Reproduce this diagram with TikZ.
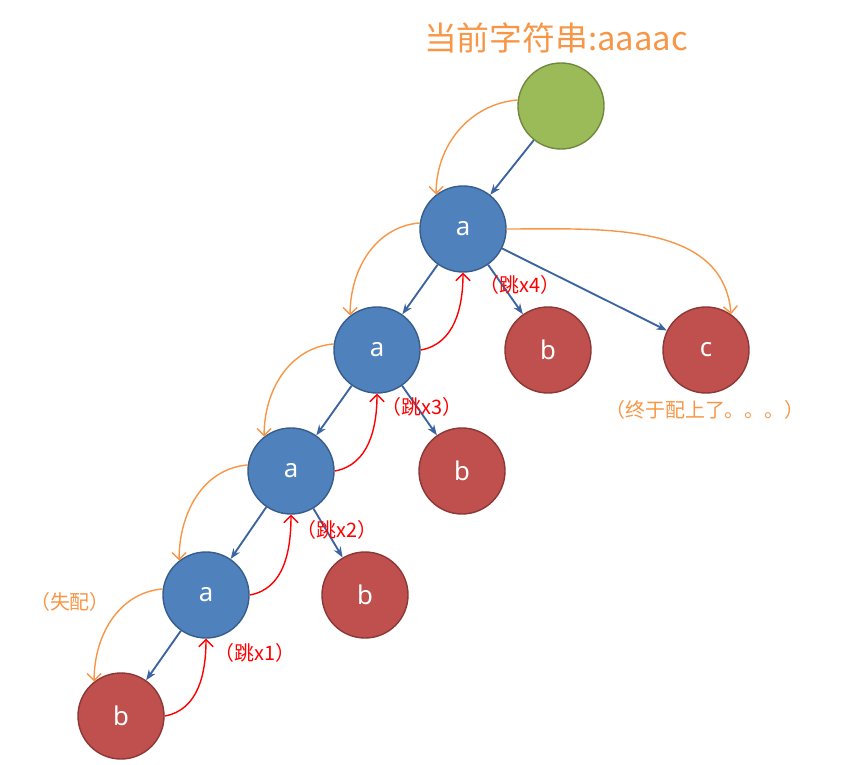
\documentclass[tikz,border=0pt]{standalone}
\usepackage{fontspec}
\setmainfont{Noto Sans}
\newfontfamily\cjk{Noto Sans CJK SC}
\usetikzlibrary{arrows.meta}
\definecolor{nodeblue}{RGB}{79,129,189}
\definecolor{bordblue}{RGB}{56,93,138}
\definecolor{nodered}{RGB}{192,80,77}
\definecolor{bordred}{RGB}{140,56,54}
\definecolor{nodegreen}{RGB}{155,187,89}
\definecolor{bordgreen}{RGB}{113,137,63}
\definecolor{edgeblue}{RGB}{60,100,160}
\definecolor{failorange}{RGB}{247,150,70}
\tikzset{
  tnode/.style={circle, line width=1.2pt, minimum size=2.58cm, inner sep=0pt,
    text=white, font=\fontsize{22}{22}\selectfont},
  anode/.style={tnode, fill=nodeblue, draw=bordblue},
  bnode/.style={tnode, fill=nodered, draw=bordred},
  rnode/.style={tnode, fill=nodegreen, draw=bordgreen},
  edge/.style={edgeblue, line width=1.6pt, -{Stealth[length=9pt]}},
  fail/.style={failorange, line width=1.2pt, -{Straight Barb[length=6pt]}},
  jump/.style={red, line width=1.2pt, -{Straight Barb[length=6pt]}},
  lbl/.style={font=\cjk\fontsize{17}{17}\selectfont, inner sep=0pt}
}
\begin{document}
\begin{tikzpicture}[x=0.03cm, y=-0.03cm]
            \useasboundingbox (0,0) rectangle (864,765);

            \node[lbl, failorange, font=\cjk\fontsize{28}{28}\selectfont] (title) at (556,38) {当前字符串:aaaac};

            \node[rnode] (root) at (561,106) {};
            \node[anode] (a1) at (463,229) {a};
            \node[anode] (a2) at (377,350) {a};
            \node[anode] (a3) at (291,471) {a};
            \node[anode] (a4) at (206,595) {a};
            \node[bnode] (b0) at (121,716) {b};
            \node[bnode] (b1) at (365,595) {b};
            \node[bnode] (b2) at (462,471) {b};
            \node[bnode] (b3) at (548,350) {b};
            \node[bnode] (c1) at (706,350) {c};

            % tree edges
            \draw[edge] (root) -- (a1);
            \draw[edge] (a1) -- (a2);
            \draw[edge] (a1) -- (b3);
            \draw[edge] (a1) -- (c1);
            \draw[edge] (a2) -- (a3);
            \draw[edge] (a2) -- (b2);
            \draw[edge] (a3) -- (a4);
            \draw[edge] (a3) -- (b1);
            \draw[edge] (a4) -- (b0);

            % matching steps
            \draw[fail] (root.172) to[out=185,in=90] (a1.128);
            \draw[fail] (a1.172) to[out=185,in=90] (a2.128);
            \draw[fail] (a2.172) to[out=185,in=90] (a3.128);
            \draw[fail] (a3.172) to[out=185,in=90] (a4.128);
            \draw[fail] (a4.172) to[out=185,in=90] (b0.128);
            \draw[fail] (a1.east) to[out=0,in=95] (c1.55);

            % jumps back
            \draw[jump] (b0.east) to[out=10,in=-90] (a4.south);
            \draw[jump] (a4.east) to[out=10,in=-90] (a3.south);
            \draw[jump] (a3.east) to[out=10,in=-90] (a2.south);
            \draw[jump] (a2.east) to[out=10,in=-90] (a1.south);

            \node[lbl, red] (j4) at (520,285) {（跳x4）};
            \node[lbl, red] (j3) at (422,407) {（跳x3）};
            \node[lbl, red] (j2) at (337,530) {（跳x2）};
            \node[lbl, red] (j1) at (255,653) {（跳x1）};
            \node[lbl, failorange] (miss) at (70,602) {（失配）};
            \node[lbl, failorange] (hit) at (705,410) {（终于配上了。。。）};
        \end{tikzpicture}
\end{document}
